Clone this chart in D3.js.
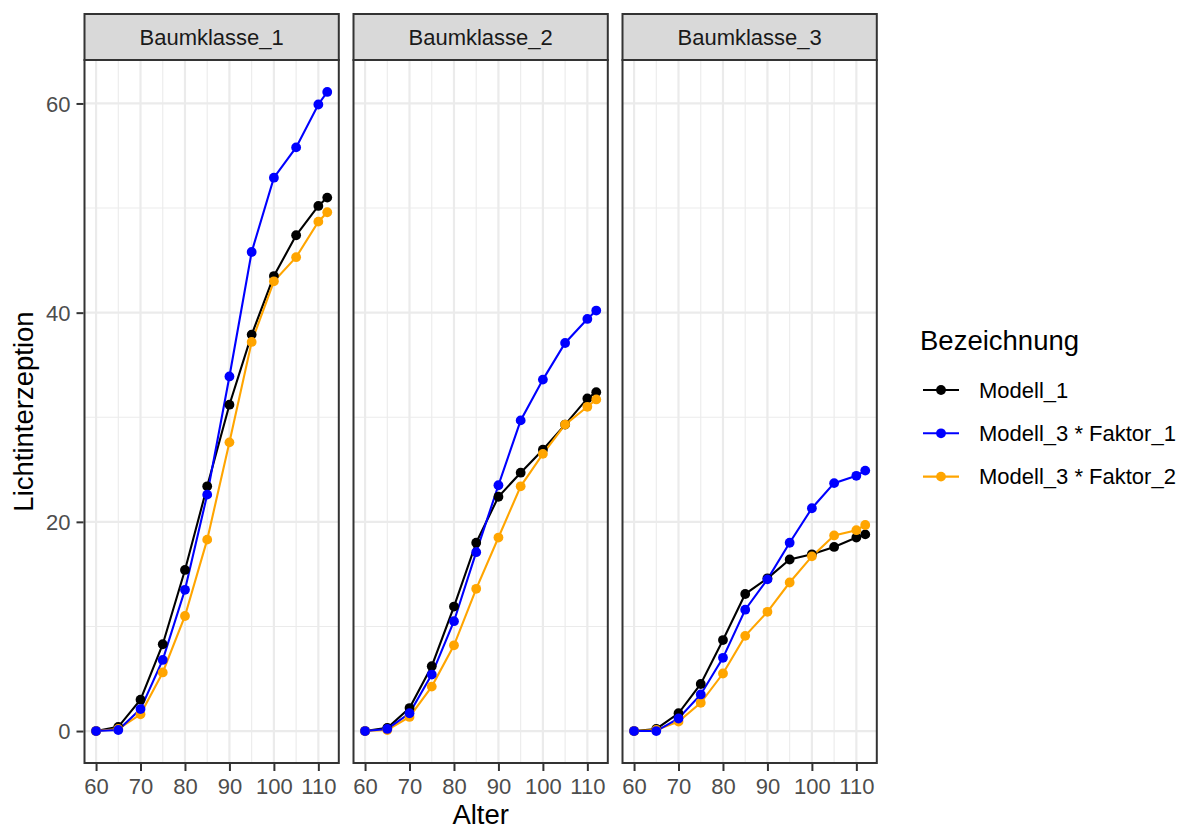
<!DOCTYPE html>
<html>
<head>
<meta charset="utf-8">
<script src="https://cdn.jsdelivr.net/npm/d3@7"></script>
<style>
  body { margin: 0; background: #fff; }
  svg { display: block; font-family: "Liberation Sans", Arial, sans-serif; }
</style>
</head>
<body>
<svg id="chart" width="1188" height="829"></svg>
<script>
// ---- data ----
const ages = [60, 65, 70, 75, 80, 85, 90, 95, 100, 105, 110, 112];
const panels = ["Baumklasse_1", "Baumklasse_2", "Baumklasse_3"];
const seriesNames = ["Modell_1", "Modell_3 * Faktor_1", "Modell_3 * Faktor_2"];
const seriesColors = ["#000000", "#0000FF", "#FFA500"];

const modell1_k1 = [0, 0.4, 3.0, 8.3, 15.4, 23.4, 31.2, 37.9, 43.5, 47.4, 50.2, 51.0];
const faktor1_k1 = [0, 0.1, 2.1, 6.8, 13.5, 22.6, 33.9, 45.8, 52.9, 55.8, 59.9, 61.1];
const faktor2_k1 = [0, 0.2, 1.6, 5.6, 11.0, 18.3, 27.6, 37.2, 43.0, 45.3, 48.7, 49.6];

const modell1_k2 = [0, 0.3, 2.2, 6.2, 11.9, 18.0, 22.4, 24.7, 26.9, 29.3, 31.8, 32.4];
const faktor1_k2 = [0, 0.2, 1.7, 5.4, 10.5, 17.1, 23.5, 29.7, 33.6, 37.1, 39.4, 40.2];
const faktor2_k2 = [0, 0.1, 1.35, 4.25, 8.2, 13.6, 18.5, 23.4, 26.5, 29.3, 31.0, 31.7];

const modell1_k3 = [0, 0.2, 1.7, 4.5, 8.7, 13.1, 14.6, 16.4, 16.9, 17.6, 18.5, 18.8];
const faktor1_k3 = [0, 0.0, 1.2, 3.5, 7.0, 11.6, 14.5, 18.0, 21.3, 23.7, 24.4, 24.9];
const faktor2_k3 = [0, 0.1, 0.9, 2.7, 5.5, 9.1, 11.4, 14.2, 16.7, 18.7, 19.2, 19.7];

const xTicks = [60, 70, 80, 90, 100, 110];
const xMinor = [65, 75, 85, 95, 105];
const yTicks = [0, 20, 40, 60];
const yMinor = [10, 30, 50];

const panelData = [
  [modell1_k1, faktor1_k1, faktor2_k1],
  [modell1_k2, faktor1_k2, faktor2_k2],
  [modell1_k3, faktor1_k3, faktor2_k3]
];

// ---- layout ----
const svg = d3.select("#chart");
const panelLeft = [84.5, 353.5, 622.5];
const panelW = 254.3;
const panelTop = 60, panelBottom = 763;
const stripTop = 14;
const fontBase = 27.5, fontSmall = 22;

const xExt = d3.extent(ages);
const xPad = (xExt[1] - xExt[0]) * 0.05;
const allY = panelData.flat(2);
const yExt = d3.extent(allY);
const yPad = (yExt[1] - yExt[0]) * 0.05;

const y = d3.scaleLinear().domain([yExt[0] - yPad, yExt[1] + yPad]).range([panelBottom, panelTop]);

// draw order: black, orange, blue (blue on top)
const drawOrder = [0, 2, 1];

panels.forEach((name, pi) => {
  const x = d3.scaleLinear().domain([xExt[0] - xPad, xExt[1] + xPad]).range([panelLeft[pi], panelLeft[pi] + panelW]);
  const g = svg.append("g");

  g.append("rect").attr("x", panelLeft[pi]).attr("y", panelTop).attr("width", panelW).attr("height", panelBottom - panelTop).attr("fill", "#fff");

  // minor grid
  g.selectAll(".xminor").data(xMinor).enter().append("line")
    .attr("x1", d => x(d)).attr("x2", d => x(d)).attr("y1", panelTop).attr("y2", panelBottom)
    .attr("stroke", "#EBEBEB").attr("stroke-width", 1.1);
  g.selectAll(".yminor").data(yMinor).enter().append("line")
    .attr("y1", d => y(d)).attr("y2", d => y(d)).attr("x1", panelLeft[pi]).attr("x2", panelLeft[pi] + panelW)
    .attr("stroke", "#EBEBEB").attr("stroke-width", 1.1);
  // major grid
  g.selectAll(".xmajor").data(xTicks).enter().append("line")
    .attr("x1", d => x(d)).attr("x2", d => x(d)).attr("y1", panelTop).attr("y2", panelBottom)
    .attr("stroke", "#EBEBEB").attr("stroke-width", 2.2);
  g.selectAll(".ymajor").data(yTicks).enter().append("line")
    .attr("y1", d => y(d)).attr("y2", d => y(d)).attr("x1", panelLeft[pi]).attr("x2", panelLeft[pi] + panelW)
    .attr("stroke", "#EBEBEB").attr("stroke-width", 2.2);

  // lines
  const line = d3.line().x((d, i) => x(ages[i])).y(d => y(d));
  drawOrder.forEach(si => {
    g.append("path").datum(panelData[pi][si])
      .attr("d", line).attr("fill", "none")
      .attr("stroke", seriesColors[si]).attr("stroke-width", 2.1);
  });
  // points
  drawOrder.forEach(si => {
    g.selectAll(".pt" + si).data(panelData[pi][si]).enter().append("circle")
      .attr("cx", (d, i) => x(ages[i])).attr("cy", d => y(d)).attr("r", 4.9)
      .attr("fill", seriesColors[si]);
  });

  // panel border
  g.append("rect").attr("x", panelLeft[pi]).attr("y", panelTop).attr("width", panelW).attr("height", panelBottom - panelTop)
    .attr("fill", "none").attr("stroke", "#333333").attr("stroke-width", 2);

  // strip
  g.append("rect").attr("x", panelLeft[pi]).attr("y", stripTop).attr("width", panelW).attr("height", panelTop - stripTop)
    .attr("fill", "#D9D9D9").attr("stroke", "#333333").attr("stroke-width", 2);
  g.append("text").attr("x", panelLeft[pi] + panelW / 2).attr("y", 45)
    .attr("text-anchor", "middle").attr("font-size", fontSmall).attr("fill", "#1A1A1A").text(name);

  // x axis
  const xAxis = d3.axisBottom(x).tickValues(xTicks).tickSize(7).tickPadding(6);
  const ax = g.append("g").attr("transform", `translate(0,${panelBottom + 1})`).call(xAxis);
  ax.select(".domain").remove();
  ax.selectAll(".tick line").attr("stroke", "#333333").attr("stroke-width", 2);
  ax.selectAll(".tick text").attr("font-size", fontSmall).attr("fill", "#4D4D4D")
    .attr("font-family", "Liberation Sans, Arial, sans-serif").attr("dy", null).attr("y", 30);

  if (pi === 0) {
    const yAxis = d3.axisLeft(y).tickValues(yTicks).tickSize(7).tickPadding(5);
    const ay = g.append("g").attr("transform", `translate(${panelLeft[pi] - 1},0)`).call(yAxis);
    ay.select(".domain").remove();
    ay.selectAll(".tick line").attr("stroke", "#333333").attr("stroke-width", 2);
    ay.selectAll(".tick text").attr("font-size", fontSmall).attr("fill", "#4D4D4D")
      .attr("font-family", "Liberation Sans, Arial, sans-serif").attr("dy", "0.36em").attr("x", -13);
  }
});

// axis titles
svg.append("text").attr("x", (panelLeft[0] + panelLeft[2] + panelW) / 2).attr("y", 824)
  .attr("text-anchor", "middle").attr("font-size", fontBase).attr("fill", "#000").text("Alter");
svg.append("text").attr("transform", `translate(33,${(panelTop + panelBottom) / 2}) rotate(-90)`)
  .attr("text-anchor", "middle").attr("font-size", fontBase).attr("fill", "#000").text("Lichtinterzeption");

// legend
const lg = svg.append("g");
lg.append("text").attr("x", 920).attr("y", 350).attr("font-size", fontBase).attr("fill", "#000").text("Bezeichnung");
seriesNames.forEach((s, i) => {
  const cy = 390 + i * 43.3;
  lg.append("line").attr("x1", 923).attr("x2", 959).attr("y1", cy).attr("y2", cy)
    .attr("stroke", seriesColors[i]).attr("stroke-width", 2.1);
  lg.append("circle").attr("cx", 941).attr("cy", cy).attr("r", 4.9).attr("fill", seriesColors[i]);
  lg.append("text").attr("x", 979).attr("y", cy + 7.8).attr("font-size", fontSmall).attr("fill", "#000").text(s);
});
</script>
</body>
</html>
